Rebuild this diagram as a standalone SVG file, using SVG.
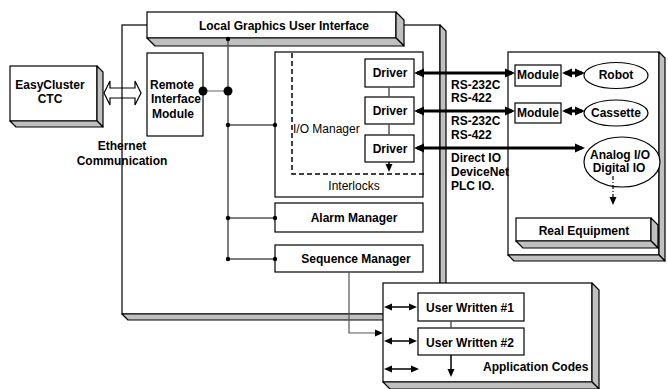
<svg xmlns="http://www.w3.org/2000/svg" width="668" height="389" viewBox="0 0 668 389">
<style>
.f{fill:#fff;stroke:#000;stroke-width:1.2}
.s{fill:#c0c0c0;stroke:#000;stroke-width:1.2;stroke-linejoin:round}
.b{font-family:"Liberation Sans",Arial,sans-serif;font-weight:bold;font-size:12px;fill:#000}
.n{font-family:"Liberation Sans",Arial,sans-serif;font-weight:normal;font-size:12px;fill:#000}
.c{text-anchor:middle}
.bus{stroke:#555;stroke-width:1.5;fill:none}
.thick{stroke:#000;stroke-width:3;fill:none}
.thin{stroke:#000;stroke-width:1.5;fill:none}
</style>
<defs>
<marker id="ah" viewBox="0 0 10 10" markerWidth="10" markerHeight="10" refX="7" refY="5" orient="auto-start-reverse" markerUnits="userSpaceOnUse">
<path d="M0,0.5 L10,5 L0,9.5 z" fill="#000"/>
</marker>
<marker id="sm" viewBox="0 0 8 8" markerWidth="8" markerHeight="8" refX="6" refY="4" orient="auto-start-reverse" markerUnits="userSpaceOnUse">
<path d="M0,0.5 L8,4 L0,7.5 z" fill="#000"/>
</marker>
<circle id="dot" r="2.2" fill="#000"/>
</defs>

<!-- big controller frame -->
<g id="controller-frame">
<rect class="f" x="122" y="25" width="318" height="289"/>
<path class="s" d="M440,25 L446,31 L446,320 L440,314 Z"/>
<path class="s" d="M122,314 L440,314 L446,320 L128,320 Z"/>
</g>

<!-- equipment frame -->
<g id="equipment-frame">
<rect class="f" x="508" y="52" width="151" height="203"/>
<path class="s" d="M659,52 L665,58 L665,261 L659,255 Z"/>
<path class="s" d="M508,255 L659,255 L665,261 L514,261 Z"/>
</g>

<g id="local-gui">
<rect class="f" x="147" y="12" width="249" height="26"/>
<path class="s" d="M396,12 L404,20 L404,46 L396,38 Z"/>
<path class="s" d="M147,38 L396,38 L404,46 L155,46 Z"/>
<text class="b c" x="284" y="30">Local Graphics User Interface</text>
</g>

<g id="easycluster">
<rect class="f" x="10" y="66" width="87" height="55"/>
<path class="s" d="M97,66 L103,72 L103,127 L97,121 Z"/>
<path class="s" d="M10,121 L97,121 L103,127 L16,127 Z"/>
<text class="b c" x="50" y="89">EasyCluster</text>
<text class="b c" x="50" y="103">CTC</text>
</g>

<g id="remote-interface">
<rect class="f" x="147" y="53" width="56" height="83"/>
<text class="b" x="150" y="89">Remote</text>
<text class="b" x="151" y="103">Interface</text>
<text class="b" x="152" y="118">Module</text>
</g>

<g id="io-manager">
<rect class="f" x="275" y="52" width="148" height="145"/>
<path d="M292,53 L292,174 L425,174" fill="none" stroke="#000" stroke-width="1.5" stroke-dasharray="5,3"/>
<text class="n" x="293" y="133">I/O Manager</text>
<text class="n c" x="354" y="190">Interlocks</text>
</g>

<g id="driver1">
<rect class="f" x="365" y="59" width="49" height="28"/>
<text class="b c" x="390" y="77">Driver</text>
</g>
<g id="driver2">
<rect class="f" x="365" y="97" width="49" height="27"/>
<text class="b c" x="390" y="115">Driver</text>
</g>
<g id="driver3">
<rect class="f" x="365" y="135" width="49" height="27"/>
<text class="b c" x="390" y="153">Driver</text>
</g>

<g id="alarm-manager">
<rect class="f" x="275" y="203" width="148" height="29"/>
<text class="b c" x="354" y="222">Alarm Manager</text>
</g>
<g id="sequence-manager">
<rect class="f" x="275" y="245" width="148" height="27"/>
<text class="b c" x="356" y="263">Sequence Manager</text>
</g>

<g id="module1">
<rect class="f" x="515" y="65" width="46" height="21"/>
<text class="b c" x="538" y="79">Module</text>
</g>
<g id="module2">
<rect class="f" x="515" y="103" width="46" height="20"/>
<text class="b c" x="538" y="117">Module</text>
</g>
<g id="robot">
<ellipse class="f" cx="616" cy="75.5" rx="32" ry="13"/>
<text class="b c" x="616" y="79">Robot</text>
</g>
<g id="cassette">
<ellipse class="f" cx="616" cy="113" rx="32" ry="13"/>
<text class="b c" x="616" y="117">Cassette</text>
</g>
<g id="analog-io">
<ellipse class="f" cx="622" cy="162" rx="38" ry="25"/>
<text class="b c" x="620" y="159">Analog I/O</text>
<text class="b c" x="619" y="172">Digital IO</text>
</g>
<g id="real-equipment">
<rect class="f" x="516" y="218" width="135" height="23"/>
<path class="s" d="M651,218 L658,225 L658,248 L651,241 Z"/>
<path class="s" d="M516,241 L651,241 L658,248 L523,248 Z"/>
<text class="b c" x="584" y="235">Real Equipment</text>
</g>

<g id="application-codes">
<rect class="f" x="383" y="283" width="209" height="99"/>
<path class="s" d="M592,283 L599,290 L599,389 L592,382 Z"/>
<path class="s" d="M383,382 L592,382 L599,389 L390,389 Z"/>
<text class="b" x="483" y="371">Application Codes</text>
</g>
<g id="user-written-1">
<rect class="f" x="418" y="293" width="106" height="28"/>
<text class="b c" x="470" y="312">User Written #1</text>
</g>
<g id="user-written-2">
<rect class="f" x="418" y="328" width="106" height="27"/>
<text class="b c" x="470" y="347">User Written #2</text>
</g>

<g id="connectors">
<!-- ethernet hollow double arrow -->
<path d="M104,93 L110,81 L110,88 L135,88 L135,81 L141,93 L135,105 L135,98 L110,98 L110,105 Z" fill="none" stroke="#000" stroke-width="1.2"/>
<text class="b c" x="122" y="150">Ethernet</text>
<text class="b c" x="122" y="165">Communication</text>

<!-- bus -->
<path class="bus" d="M228,39 L228,259"/>
<path d="M203,91 L228,91" stroke="#999" stroke-width="1.5"/>
<path class="bus" d="M228,125 L275,125 M228,218 L275,218 M228,259 L275,259"/>
<circle cx="203" cy="91" r="4.5" fill="#000"/>
<circle cx="228" cy="91" r="4.5" fill="#000"/>
<use href="#dot" x="228" y="39"/>
<use href="#dot" x="228" y="125"/>
<use href="#dot" x="275" y="125"/>
<use href="#dot" x="228" y="218"/>
<use href="#dot" x="275" y="218"/>
<use href="#dot" x="228" y="259"/>
<use href="#dot" x="275" y="259"/>

<!-- driver chain -->
<path class="bus" d="M389,87 L389,97 M389,124 L389,135"/>
<line class="thin" x1="389" y1="162" x2="389" y2="170" marker-end="url(#sm)"/>

<!-- thick serial links -->
<line class="thick" x1="417" y1="73" x2="512" y2="73" marker-start="url(#ah)" marker-end="url(#ah)"/>
<line class="thick" x1="417" y1="111" x2="512" y2="111" marker-start="url(#ah)" marker-end="url(#ah)"/>
<line class="thick" x1="417" y1="148" x2="582" y2="148" marker-start="url(#ah)" marker-end="url(#ah)"/>
<text class="b" x="451" y="89">RS-232C</text>
<text class="b" x="451" y="102">RS-422</text>
<text class="b" x="451" y="125">RS-232C</text>
<text class="b" x="451" y="139">RS-422</text>
<text class="b" x="451" y="162">Direct IO</text>
<text class="b" x="451" y="176">DeviceNet</text>
<text class="b" x="451" y="190">PLC IO.</text>

<!-- module to device -->
<line class="thick" x1="565" y1="73" x2="582" y2="73" marker-start="url(#ah)" marker-end="url(#ah)"/>
<line class="thick" x1="565" y1="111" x2="582" y2="111" marker-start="url(#ah)" marker-end="url(#ah)"/>

<!-- analog to real equipment -->
<line x1="613" y1="176" x2="613" y2="203" stroke="#000" stroke-width="1.2" stroke-dasharray="4,2,1,2" marker-end="url(#sm)"/>

<!-- sequence to application -->
<path d="M349,272 L349,333 L381,333" fill="none" stroke="#555" stroke-width="1.2" marker-end="url(#sm)"/>

<!-- application internal -->
<line class="thin" x1="386" y1="307" x2="415" y2="307" marker-start="url(#sm)" marker-end="url(#sm)"/>
<line class="thin" x1="386" y1="341" x2="415" y2="341" marker-start="url(#sm)" marker-end="url(#sm)"/>
<line class="thin" x1="386" y1="369" x2="417" y2="369" marker-start="url(#sm)" marker-end="url(#sm)"/>
<path class="bus" d="M451,321 L451,328"/>
<line class="thin" x1="451" y1="355" x2="451" y2="375" marker-end="url(#sm)"/>
</g>
</svg>
